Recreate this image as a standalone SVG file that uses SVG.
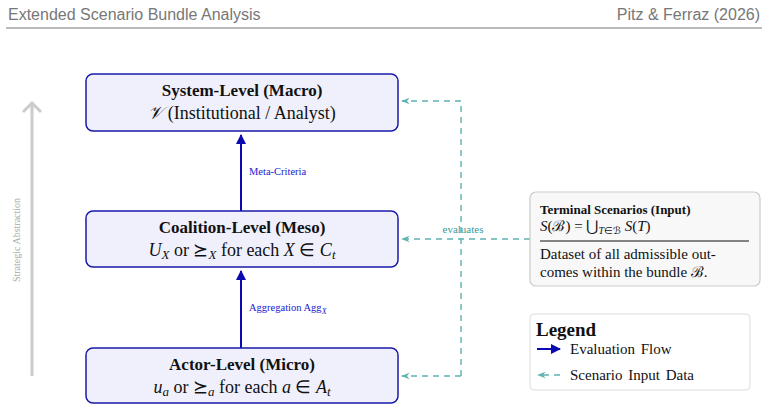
<svg xmlns="http://www.w3.org/2000/svg" width="767" height="412" viewBox="0 0 767 412">
<style>
.node{fill:#f0f0fc;stroke:#1a1aaa;stroke-width:1.5}
.t{font-family:"Liberation Serif",serif;font-size:18px;text-anchor:middle;fill:#111}
.b{font-weight:bold;font-size:17px}
.i{font-style:italic}
.dash{stroke:#5fb3b3;stroke-width:1.4;stroke-dasharray:6,5;fill:none}
.flow{stroke:#0a0ab0;stroke-width:2;fill:none}
.lab{font-family:"Liberation Serif",serif;font-size:10.5px;fill:#1a1ad0}
.r{font-family:"Liberation Serif",serif;font-size:15px;fill:#111}
</style>
<defs>
<marker id="ab" viewBox="0 0 10 10" refX="9" refY="5" markerWidth="5" markerHeight="5" orient="auto"><path d="M0,0 L10,5 L0,10 z" fill="#0a0ab0"/></marker>
<marker id="at" viewBox="0 0 10 10" refX="9" refY="5" markerWidth="6" markerHeight="6" orient="auto"><path d="M0,1 L10,5 L0,9 L3,5 z" fill="#5fb3b3"/></marker>
</defs>
<rect width="767" height="412" fill="#fff"/>
<text x="8" y="20" font-family="Liberation Sans,sans-serif" font-size="16" fill="#777">Extended Scenario Bundle Analysis</text>
<text x="760" y="20" font-family="Liberation Sans,sans-serif" font-size="16" fill="#777" text-anchor="end">Pitz &amp; Ferraz (2026)</text>
<line x1="6" y1="28" x2="762" y2="28" stroke="#777" stroke-width="1"/>
<g id="abstraction">
<line x1="32" y1="376" x2="32" y2="104" stroke="#ccc" stroke-width="3"/>
<path d="M23,112 L32,103 L41,112" stroke="#ccc" stroke-width="3" fill="none"/>
<text transform="translate(20,240) rotate(-90)" font-family="Liberation Serif,serif" font-size="10" fill="#aaa" text-anchor="middle">Strategic Abstraction</text>
</g>
<g id="connectors">
<line class="flow" x1="241" y1="211" x2="241" y2="135" marker-end="url(#ab)"/>
<line class="flow" x1="241" y1="348" x2="241" y2="271" marker-end="url(#ab)"/>
<text class="lab" x="249" y="175">Meta-Criteria</text>
<text class="lab" x="249" y="311">Aggregation Agg<tspan font-style="italic" font-size="8" dy="3">X</tspan></text>
<polyline class="dash" points="461,376 461,101 402,101" marker-end="url(#at)"/>
<line class="dash" x1="461" y1="376" x2="402" y2="376" marker-end="url(#at)"/>
<line class="dash" x1="530" y1="239" x2="402" y2="239" marker-end="url(#at)"/>
<text x="463" y="233" font-family="Liberation Serif,serif" font-size="11" fill="#3a9a9a" text-anchor="middle">evaluates</text>
</g>
<g id="macro">
<rect class="node" x="86" y="74" width="312" height="57" rx="7"/>
<text class="t b" x="242" y="96">System-Level (Macro)</text>
<text class="t" x="242" y="119"><tspan class="i">𝒱</tspan> (Institutional / Analyst)</text>
</g>
<g id="meso">
<rect class="node" x="86" y="211" width="312" height="56" rx="7"/>
<text class="t b" x="242" y="233">Coalition-Level (Meso)</text>
<text class="t" x="242" y="256"><tspan class="i">U</tspan><tspan class="i" font-size="13" dy="3">X</tspan><tspan dy="-3"> or ⪰</tspan><tspan class="i" font-size="13" dy="3">X</tspan><tspan dy="-3"> for each </tspan><tspan class="i">X</tspan> ∈ <tspan class="i">C</tspan><tspan class="i" font-size="13" dy="3">t</tspan></text>
</g>
<g id="micro">
<rect class="node" x="86" y="348" width="312" height="55" rx="7"/>
<text class="t b" x="242" y="370">Actor-Level (Micro)</text>
<text class="t" x="242" y="393"><tspan class="i">u</tspan><tspan class="i" font-size="13" dy="3">a</tspan><tspan dy="-3"> or ⪰</tspan><tspan class="i" font-size="13" dy="3">a</tspan><tspan dy="-3"> for each </tspan><tspan class="i">a</tspan> ∈ <tspan class="i">A</tspan><tspan class="i" font-size="13" dy="3">t</tspan></text>
</g>
<g id="terminal">
<rect x="530" y="192" width="230" height="94" rx="6" fill="#f8f8f8" stroke="#ccc" stroke-width="1.2"/>
<text x="540" y="214" font-family="Liberation Serif,serif" font-size="13" font-weight="bold" fill="#111">Terminal Scenarios (Input)</text>
<text x="540" y="231" class="r"><tspan font-style="italic">S</tspan>(ℬ) = ⋃<tspan font-style="italic" font-size="10" dy="3">T</tspan><tspan font-size="10">∈ℬ</tspan><tspan dy="-3"> </tspan><tspan font-style="italic">S</tspan>(<tspan font-style="italic">T</tspan>)</text>
<line x1="540" y1="241" x2="749" y2="241" stroke="#111" stroke-width="1"/>
<text x="540" y="259" class="r">Dataset of all admissible out-</text>
<text x="540" y="277" class="r">comes within the bundle ℬ.</text>
</g>
<g id="legend">
<rect x="530" y="314" width="220" height="76" rx="4" fill="#fff" stroke="#ddd" stroke-width="1"/>
<text x="536" y="336" font-family="Liberation Serif,serif" font-size="19" font-weight="bold" fill="#111">Legend</text>
<line x1="537" y1="349" x2="560" y2="349" class="flow" marker-end="url(#ab)"/>
<text x="570" y="354" class="r" word-spacing="2">Evaluation Flow</text>
<line x1="560" y1="375" x2="538" y2="375" class="dash" marker-end="url(#at)"/>
<text x="570" y="380" class="r" word-spacing="2">Scenario Input Data</text>
</g>
</svg>
